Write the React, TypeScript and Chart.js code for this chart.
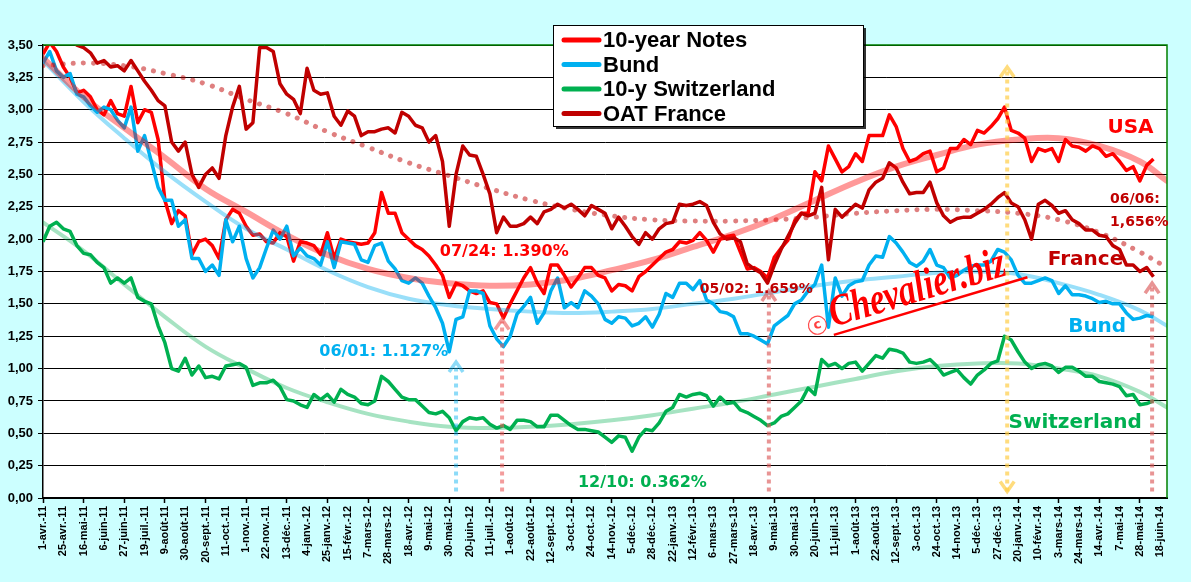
import { useEffect, useRef } from "react";
import { Chart, registerables } from "chart.js";
Chart.register(...registerables);

// one business day = 1 unit on x; a date label every 15 days
const dateLabels = [
  "1-avr.-11", "25-avr.-11", "16-mai-11", "6-juin-11", "27-juin-11", "19-juil.-11", "9-août-11", "30-août-11",
  "20-sept.-11", "11-oct.-11", "1-nov.-11", "22-nov.-11", "13-déc.-11", "4-janv.-12", "25-janv.-12", "15-févr.-12",
  "7-mars-12", "28-mars-12", "18-avr.-12", "9-mai-12", "30-mai-12", "20-juin-12", "11-juil.-12", "1-août-12",
  "22-août-12", "12-sept.-12", "3-oct.-12", "24-oct.-12", "14-nov.-12", "5-déc.-12", "28-déc.-12", "22-janv.-13",
  "12-févr.-13", "6-mars-13", "27-mars-13", "18-avr.-13", "9-mai-13", "30-mai-13", "20-juin-13", "11-juil.-13",
  "1-août-13", "22-août-13", "12-sept.-13", "3-oct.-13", "24-oct.-13", "14-nov.-13", "5-déc.-13", "27-déc.-13",
  "20-janv.-14", "10-févr.-14", "3-mars-14", "24-mars-14", "14-avr.-14", "7-mai-14", "28-mai-14", "18-juin-14",
];
const LABEL_EVERY = 15;
const STEP = 5; // weekly samples
const X_MAX = 830;

const usNotes = [
  3.43, 3.52, 3.45, 3.33, 3.25, 3.13, 3.15, 3.1, 3.0, 2.96, 3.07, 2.97, 2.95, 3.18, 2.9, 3.0, 2.98, 2.77, 2.3, 2.12,
  2.22, 2.18, 1.88, 1.98, 2.0, 1.95, 1.85, 2.15, 2.23, 2.2,
  2.1, 2.03, 2.04, 1.98, 1.97, 2.05, 2.02, 1.83, 1.98, 1.97, 1.95, 1.88, 2.05, 1.85, 2.0, 1.98, 1.97, 1.96, 1.97, 2.05,
  2.36, 2.2, 2.2, 2.05, 2.0, 1.95, 1.92, 1.87, 1.8, 1.72, 1.55, 1.66, 1.64, 1.6,
  1.58, 1.6, 1.51, 1.5, 1.39, 1.5, 1.6, 1.7, 1.78, 1.66, 1.58, 1.8, 1.8, 1.72, 1.63, 1.7, 1.78, 1.78, 1.72, 1.7,
  1.6, 1.65, 1.64, 1.6, 1.71, 1.75, 1.8, 1.85, 1.9, 1.92, 1.98, 1.97, 1.99, 2.05,
  1.99, 1.9, 2.0, 2.02, 2.03, 1.9, 1.77, 1.78, 1.75, 1.7, 1.86, 1.93, 1.99, 2.14, 2.2, 2.2, 2.52, 2.45, 2.72, 2.62,
  2.52, 2.56, 2.66, 2.6, 2.8, 2.8, 2.8, 2.96, 2.87, 2.7, 2.6, 2.62, 2.66, 2.68,
  2.52, 2.55, 2.7, 2.7, 2.77, 2.73, 2.84, 2.82, 2.87, 2.93, 3.02, 2.84, 2.82, 2.78, 2.6, 2.7, 2.68, 2.7, 2.6, 2.77,
  2.72, 2.71, 2.68, 2.72, 2.7, 2.64, 2.66, 2.6, 2.53, 2.56, 2.45, 2.57, 2.62,
];
const bund = [
  3.36, 3.45, 3.3, 3.25, 3.28, 3.12, 3.1, 3.03, 2.98, 3.02, 3.0, 2.92, 2.86, 3.02, 2.68, 2.8, 2.6, 2.4, 2.3, 2.3,
  2.1, 2.15, 1.85, 1.85, 1.75, 1.8, 1.72, 2.15, 1.98, 2.1,
  1.85, 1.7, 1.78, 1.93, 2.07, 2.0, 2.1, 1.87, 1.93, 1.87, 1.85, 1.8, 1.98, 1.78, 1.98, 1.97, 1.96, 1.84, 1.82, 1.95,
  1.97, 1.83, 1.77, 1.68, 1.66, 1.7, 1.66, 1.56, 1.47, 1.35, 1.13, 1.38, 1.4, 1.6,
  1.6, 1.58, 1.33, 1.23, 1.17, 1.25, 1.42, 1.48, 1.55, 1.35, 1.43, 1.6, 1.7, 1.47, 1.51, 1.47, 1.6, 1.56, 1.5, 1.38,
  1.35, 1.4, 1.39, 1.33, 1.35, 1.4, 1.32, 1.42, 1.58, 1.55, 1.66, 1.66, 1.61, 1.68,
  1.53, 1.5, 1.44, 1.43, 1.4, 1.27, 1.27, 1.25, 1.22, 1.19, 1.33, 1.37, 1.41, 1.5, 1.53, 1.6, 1.65, 1.8, 1.32, 1.7,
  1.56, 1.64, 1.67, 1.68, 1.8, 1.87, 1.86, 2.02, 1.97, 1.9, 1.82, 1.79, 1.83, 1.92,
  1.8, 1.78, 1.7, 1.72, 1.76, 1.79, 1.8, 1.8, 1.83, 1.92, 1.9, 1.84, 1.72, 1.66, 1.66, 1.68, 1.7, 1.68, 1.58, 1.64,
  1.57, 1.57, 1.56, 1.54, 1.51, 1.52, 1.5, 1.5, 1.43, 1.38, 1.39, 1.41, 1.4,
];
const swiss = [
  1.98, 2.1, 2.13, 2.08, 2.06, 1.95, 1.89, 1.88, 1.82, 1.78, 1.66, 1.7, 1.66, 1.7, 1.55, 1.52, 1.5, 1.33, 1.2, 1.0,
  0.98, 1.08, 0.95, 1.02, 0.93, 0.94, 0.92, 1.02, 1.03, 1.04,
  1.01, 0.87, 0.89, 0.89, 0.91, 0.86, 0.76, 0.75, 0.72, 0.7, 0.8, 0.76, 0.8, 0.74, 0.84, 0.8, 0.78, 0.73, 0.72, 0.75,
  0.94, 0.9, 0.84, 0.78, 0.76, 0.76, 0.71, 0.66, 0.65, 0.67, 0.62, 0.52, 0.59, 0.62,
  0.61, 0.62, 0.57, 0.54, 0.56, 0.53, 0.6, 0.6, 0.59, 0.55, 0.55, 0.64, 0.64, 0.6, 0.56, 0.53, 0.53, 0.52, 0.51, 0.47,
  0.43, 0.48, 0.47, 0.362, 0.47, 0.53, 0.52, 0.58, 0.67, 0.7, 0.8, 0.78, 0.8, 0.81,
  0.79, 0.71, 0.78, 0.73, 0.74, 0.68, 0.66, 0.63, 0.6, 0.56, 0.58, 0.63, 0.65, 0.7, 0.75, 0.85, 0.8, 1.07, 1.02, 1.04,
  1.0, 1.04, 1.05, 0.98, 1.04, 1.1, 1.08, 1.15, 1.14, 1.12, 1.05, 1.04, 1.05, 1.07,
  1.02, 0.95, 0.97, 0.99, 0.93, 0.88, 0.95, 0.99, 1.04, 1.06, 1.25, 1.22, 1.13, 1.05, 1.0, 1.03, 1.04, 1.02, 0.97, 1.01,
  1.01, 0.98, 0.94, 0.94, 0.9, 0.89, 0.88, 0.86, 0.79, 0.8, 0.72, 0.73, 0.75,
];
const oatFrance = [
  3.65, 3.68, 3.62, 3.6, 3.56, 3.5, 3.48, 3.44, 3.36, 3.38, 3.33, 3.34, 3.3, 3.38, 3.3, 3.22, 3.15, 3.07, 3.03, 2.75,
  2.68, 2.75, 2.5, 2.4, 2.5, 2.55, 2.47, 2.8, 3.02, 3.18,
  2.85, 2.9, 3.48, 3.48, 3.45, 3.2, 3.12, 3.08, 2.97, 3.32, 3.15, 3.12, 3.13, 2.95, 2.88, 2.99, 2.95, 2.8, 2.83, 2.83,
  2.85, 2.86, 2.82, 2.98, 2.95, 2.88, 2.86, 2.75, 2.8, 2.6, 2.1, 2.5, 2.72, 2.65,
  2.64, 2.5, 2.35, 2.05, 2.17, 2.1, 2.1, 2.12, 2.17, 2.12, 2.21, 2.23, 2.27, 2.24, 2.27, 2.23, 2.18, 2.26, 2.23, 2.2,
  2.08, 2.17, 2.1, 2.02, 1.96, 2.05, 2.0, 2.08, 2.12, 2.13, 2.27, 2.26, 2.27, 2.29,
  2.26, 2.13, 2.04, 2.0, 2.01, 1.98, 1.81, 1.77, 1.74, 1.66, 1.8, 1.92, 2.02, 2.12, 2.2, 2.18, 2.2, 2.4, 1.84, 2.23,
  2.17, 2.22, 2.27, 2.24, 2.38, 2.44, 2.47, 2.59, 2.55, 2.44, 2.35, 2.36, 2.36, 2.44,
  2.28, 2.18, 2.13, 2.16, 2.17, 2.17, 2.2, 2.23, 2.27, 2.32, 2.36, 2.28, 2.25, 2.15, 2.0, 2.27, 2.3, 2.26, 2.2, 2.22,
  2.15, 2.12, 2.07, 2.07, 2.03, 2.02, 1.95, 1.92, 1.8, 1.8, 1.75, 1.78, 1.71,
];

// trend curves, read every 30 days
const trendIdx = [0, 30, 60, 90, 120, 150, 180, 210, 240, 270, 300, 330, 360, 390, 420, 450, 480, 510, 540, 570, 600, 630, 660, 690, 720, 750, 780, 810, 830];
const usTrend = [3.4, 3.1, 2.86, 2.63, 2.39, 2.21, 2.03, 1.88, 1.77, 1.7, 1.66, 1.64, 1.65, 1.69, 1.76, 1.84, 1.94, 2.04, 2.16, 2.3, 2.44, 2.56, 2.65, 2.73, 2.77, 2.78, 2.72, 2.6, 2.45];
const bundTrend = [3.38, 3.06, 2.78, 2.52, 2.29, 2.08, 1.92, 1.76, 1.63, 1.54, 1.49, 1.46, 1.44, 1.43, 1.44, 1.46, 1.5, 1.54, 1.59, 1.64, 1.68, 1.71, 1.74, 1.75, 1.73, 1.66, 1.57, 1.45, 1.33];
const swissTrend = [2.13, 1.91, 1.65, 1.4, 1.17, 1.0, 0.85, 0.74, 0.65, 0.59, 0.55, 0.54, 0.55, 0.57, 0.6, 0.64, 0.69, 0.74, 0.8, 0.86, 0.92, 0.98, 1.02, 1.04, 1.04, 1.0, 0.94, 0.82, 0.7];
const franceTrend = [3.34, 3.36, 3.34, 3.28, 3.2, 3.08, 2.97, 2.83, 2.71, 2.59, 2.49, 2.39, 2.3, 2.23, 2.18, 2.15, 2.14, 2.14, 2.15, 2.17, 2.2, 2.22, 2.23, 2.22, 2.2, 2.15, 2.05, 1.9, 1.78];

const RED = "#FF0000";
const BLUE = "#00B0F0";
const GREEN = "#00B050";
const DARKRED = "#C00000";

const legendItems = [
  { label: "10-year Notes", color: RED },
  { label: "Bund", color: BLUE },
  { label: "10-y Switzerland", color: GREEN },
  { label: "OAT France", color: DARKRED },
];

// dotted pointer arrows: day index, top value (yellow one points both ways)
const arrows = [
  { i: 305, top: 1.05, color: "rgba(0,176,240,0.45)", both: false },
  { i: 339, top: 1.38, color: "rgba(235,90,90,0.6)", both: false },
  { i: 536, top: 1.6, color: "rgba(220,90,90,0.65)", both: false },
  { i: 712, top: 3.33, color: "rgba(255,205,70,0.7)", both: true },
  { i: 819, top: 1.66, color: "rgba(220,90,90,0.65)", both: false },
];

const notes = [
  { text: "07/24: 1.390%", i: 293, v: 1.9, color: RED, size: 16 },
  { text: "06/01: 1.127%", i: 204, v: 1.13, color: BLUE, size: 16 },
  { text: "12/10: 0.362%", i: 395, v: 0.12, color: GREEN, size: 16 },
  { text: "05/02: 1.659%", i: 485, v: 1.61, color: DARKRED, size: 14 },
  { text: "06/06:", i: 788, v: 2.31, color: DARKRED, size: 14 },
  { text: "1,656%", i: 788, v: 2.13, color: DARKRED, size: 14 },
  { text: "USA", i: 786, v: 2.86, color: RED, size: 20 },
  { text: "France", i: 742, v: 1.84, color: DARKRED, size: 20 },
  { text: "Bund", i: 757, v: 1.32, color: BLUE, size: 20 },
  { text: "Switzerland", i: 713, v: 0.58, color: GREEN, size: 20 },
];

const pts = (vals: number[]) => vals.map((y, k) => ({ x: k * STEP, y }));
const trendPts = (vals: number[]) => vals.map((y, k) => ({ x: trendIdx[k], y }));

const decor = {
  id: "decor",
  beforeDraw(chart: any) {
    const { ctx, chartArea: a } = chart;
    ctx.save();
    ctx.fillStyle = "#FFFFFF";
    ctx.fillRect(a.left, a.top, a.right - a.left, a.bottom - a.top);
    ctx.restore();
  },
  afterDatasetsDraw(chart: any) {
    const { ctx, chartArea: a } = chart;
    const xs = chart.scales.x;
    const ys = chart.scales.y;
    ctx.save();

    // green frame top / right
    ctx.strokeStyle = "#008000";
    ctx.lineWidth = 1.5;
    ctx.beginPath();
    ctx.moveTo(a.left, a.top);
    ctx.lineTo(a.right, a.top);
    ctx.lineTo(a.right, a.bottom);
    ctx.stroke();

    // arrows
    for (const ar of arrows) {
      const px = xs.getPixelForValue(ar.i);
      const top = ys.getPixelForValue(ar.top);
      const bot = ys.getPixelForValue(0.05);
      ctx.strokeStyle = ar.color;
      ctx.lineWidth = 4;
      ctx.setLineDash([4, 4]);
      ctx.beginPath();
      ctx.moveTo(px, bot);
      ctx.lineTo(px, top + 2);
      ctx.stroke();
      ctx.setLineDash([]);
      ctx.lineWidth = 3.5;
      ctx.beginPath();
      ctx.moveTo(px - 7, top + 10);
      ctx.lineTo(px, top);
      ctx.lineTo(px + 7, top + 10);
      ctx.stroke();
      if (ar.both) {
        ctx.beginPath();
        ctx.moveTo(px - 7, bot - 10);
        ctx.lineTo(px, bot);
        ctx.lineTo(px + 7, bot - 10);
        ctx.stroke();
      }
    }

    // text notes
    ctx.textBaseline = "middle";
    ctx.textAlign = "left";
    for (const n of notes) {
      ctx.font = `bold ${n.size}px 'DejaVu Sans', Verdana, sans-serif`;
      ctx.fillStyle = n.color;
      ctx.fillText(n.text, xs.getPixelForValue(n.i), ys.getPixelForValue(n.v));
    }

    // watermark
    ctx.translate(xs.getPixelForValue(584), ys.getPixelForValue(1.26));
    ctx.rotate((-16.6 * Math.PI) / 180);
    ctx.strokeStyle = RED;
    ctx.lineWidth = 2.5;
    ctx.beginPath();
    ctx.moveTo(0, 0);
    ctx.lineTo(202, 0);
    ctx.stroke();
    ctx.lineWidth = 1.2;
    ctx.strokeStyle = "rgba(255,0,0,0.7)";
    ctx.beginPath();
    ctx.arc(-13, -14, 9, 0, Math.PI * 2);
    ctx.stroke();
    ctx.fillStyle = "rgba(255,0,0,0.75)";
    ctx.font = "bold 13px 'DejaVu Sans', sans-serif";
    ctx.textAlign = "center";
    ctx.fillText("c", -13, -14);
    ctx.textAlign = "left";
    ctx.textBaseline = "alphabetic";
    ctx.scale(1, 1.3);
    ctx.fillStyle = RED;
    ctx.font = "italic bold 34px 'Liberation Serif', serif";
    ctx.fillText("Chevalier.biz", 2, -6);
    ctx.restore();
  },
  afterDraw(chart: any) {
    const { ctx } = chart;
    const lx = 553, ly = 25, lw = 310, lh = 101;
    ctx.save();
    ctx.fillStyle = "rgba(0,0,0,0.8)";
    ctx.fillRect(lx + 3, ly + 3, lw, lh);
    ctx.fillStyle = "#FFFFFF";
    ctx.fillRect(lx, ly, lw, lh);
    ctx.strokeStyle = "#000000";
    ctx.lineWidth = 1;
    ctx.strokeRect(lx + 0.5, ly + 0.5, lw, lh);
    ctx.font = "bold 22px 'Liberation Sans', Arial, sans-serif";
    ctx.textBaseline = "middle";
    legendItems.forEach((it, n) => {
      const yy = ly + 15 + n * 24.5;
      ctx.strokeStyle = it.color;
      ctx.lineWidth = 5;
      ctx.lineCap = "round";
      ctx.beginPath();
      ctx.moveTo(lx + 11, yy);
      ctx.lineTo(lx + 46, yy);
      ctx.stroke();
      ctx.fillStyle = "#000000";
      ctx.fillText(it.label, lx + 50, yy + 1);
    });
    ctx.restore();
  },
};

const line = (label: string, data: any[], color: string, order: number, clip?: number) => ({
  label,
  data,
  borderColor: color,
  borderWidth: 3.5,
  pointRadius: 0,
  tension: 0,
  borderJoinStyle: "round" as const,
  order,
  clip,
});

const trend = (label: string, data: any[], color: string, width: number, dash?: number[]) => ({
  label,
  data,
  borderColor: color,
  borderWidth: width,
  pointRadius: 0,
  tension: 0.4,
  borderCapStyle: "round" as const,
  borderDash: dash,
  order: 0,
});

export default function App() {
  const ref = useRef<HTMLCanvasElement | null>(null);

  useEffect(() => {
    document.body.style.margin = "0";
    if (!ref.current) return;
    const chart = new Chart(ref.current, {
      type: "line",
      data: {
        datasets: [
          trend("USA trend", trendPts(usTrend), "rgba(255,0,0,0.4)", 6),
          trend("Bund trend", trendPts(bundTrend), "rgba(0,176,240,0.4)", 4),
          trend("Swiss trend", trendPts(swissTrend), "rgba(0,176,80,0.35)", 4),
          trend("France trend", trendPts(franceTrend), "rgba(192,0,0,0.5)", 5, [0.1, 10]),
          line("OAT France", pts(oatFrance), DARKRED, 1, 0),
          line("10-y Switzerland", pts(swiss), GREEN, 2),
          line("Bund", pts(bund), BLUE, 3),
          line("10-year Notes", pts(usNotes), RED, 4),
        ],
      },
      options: {
        animation: false,
        responsive: false,
        layout: { padding: { top: 45, right: 24, left: 0, bottom: 0 } },
        plugins: { legend: { display: false }, tooltip: { enabled: false } },
        scales: {
          x: {
            type: "linear",
            min: 0,
            max: X_MAX,
            afterFit: (s: any) => { s.height = 84; },
            border: { color: "#000", width: 2 },
            grid: {
              drawOnChartArea: false,
              tickLength: 5,
              tickWidth: 1.5,
              tickColor: (c: any) => (c.tick && c.tick.value % (LABEL_EVERY * 2) === 0 ? "#000" : "rgba(0,0,0,0)"),
            },
            ticks: {
              stepSize: LABEL_EVERY,
              includeBounds: false,
              autoSkip: false,
              minRotation: 90,
              maxRotation: 90,
              padding: 3,
              color: "#000",
              font: { family: "'Liberation Sans', Arial, sans-serif", size: 11, weight: "bold" },
              callback: (v: any) => dateLabels[Math.round(Number(v) / LABEL_EVERY)] ?? "",
            },
          },
          y: {
            min: 0,
            max: 3.5,
            afterFit: (s: any) => { s.width = 43; },
            border: { color: "#000", width: 1.5 },
            grid: { color: "#000", lineWidth: 1, tickLength: 5, tickColor: "#000" },
            ticks: {
              stepSize: 0.25,
              padding: 5,
              color: "#000",
              font: { family: "'Liberation Sans', Arial, sans-serif", size: 13, weight: "bold" },
              callback: (v: any) => Number(v).toFixed(2).replace(".", ","),
            },
          },
        },
      },
      plugins: [decor],
    });
    return () => chart.destroy();
  }, []);

  return (
    <div style={{ width: 1191, height: 582, background: "#CCFFFF" }}>
      <canvas ref={ref} width={1191} height={582} style={{ display: "block" }} />
    </div>
  );
}
